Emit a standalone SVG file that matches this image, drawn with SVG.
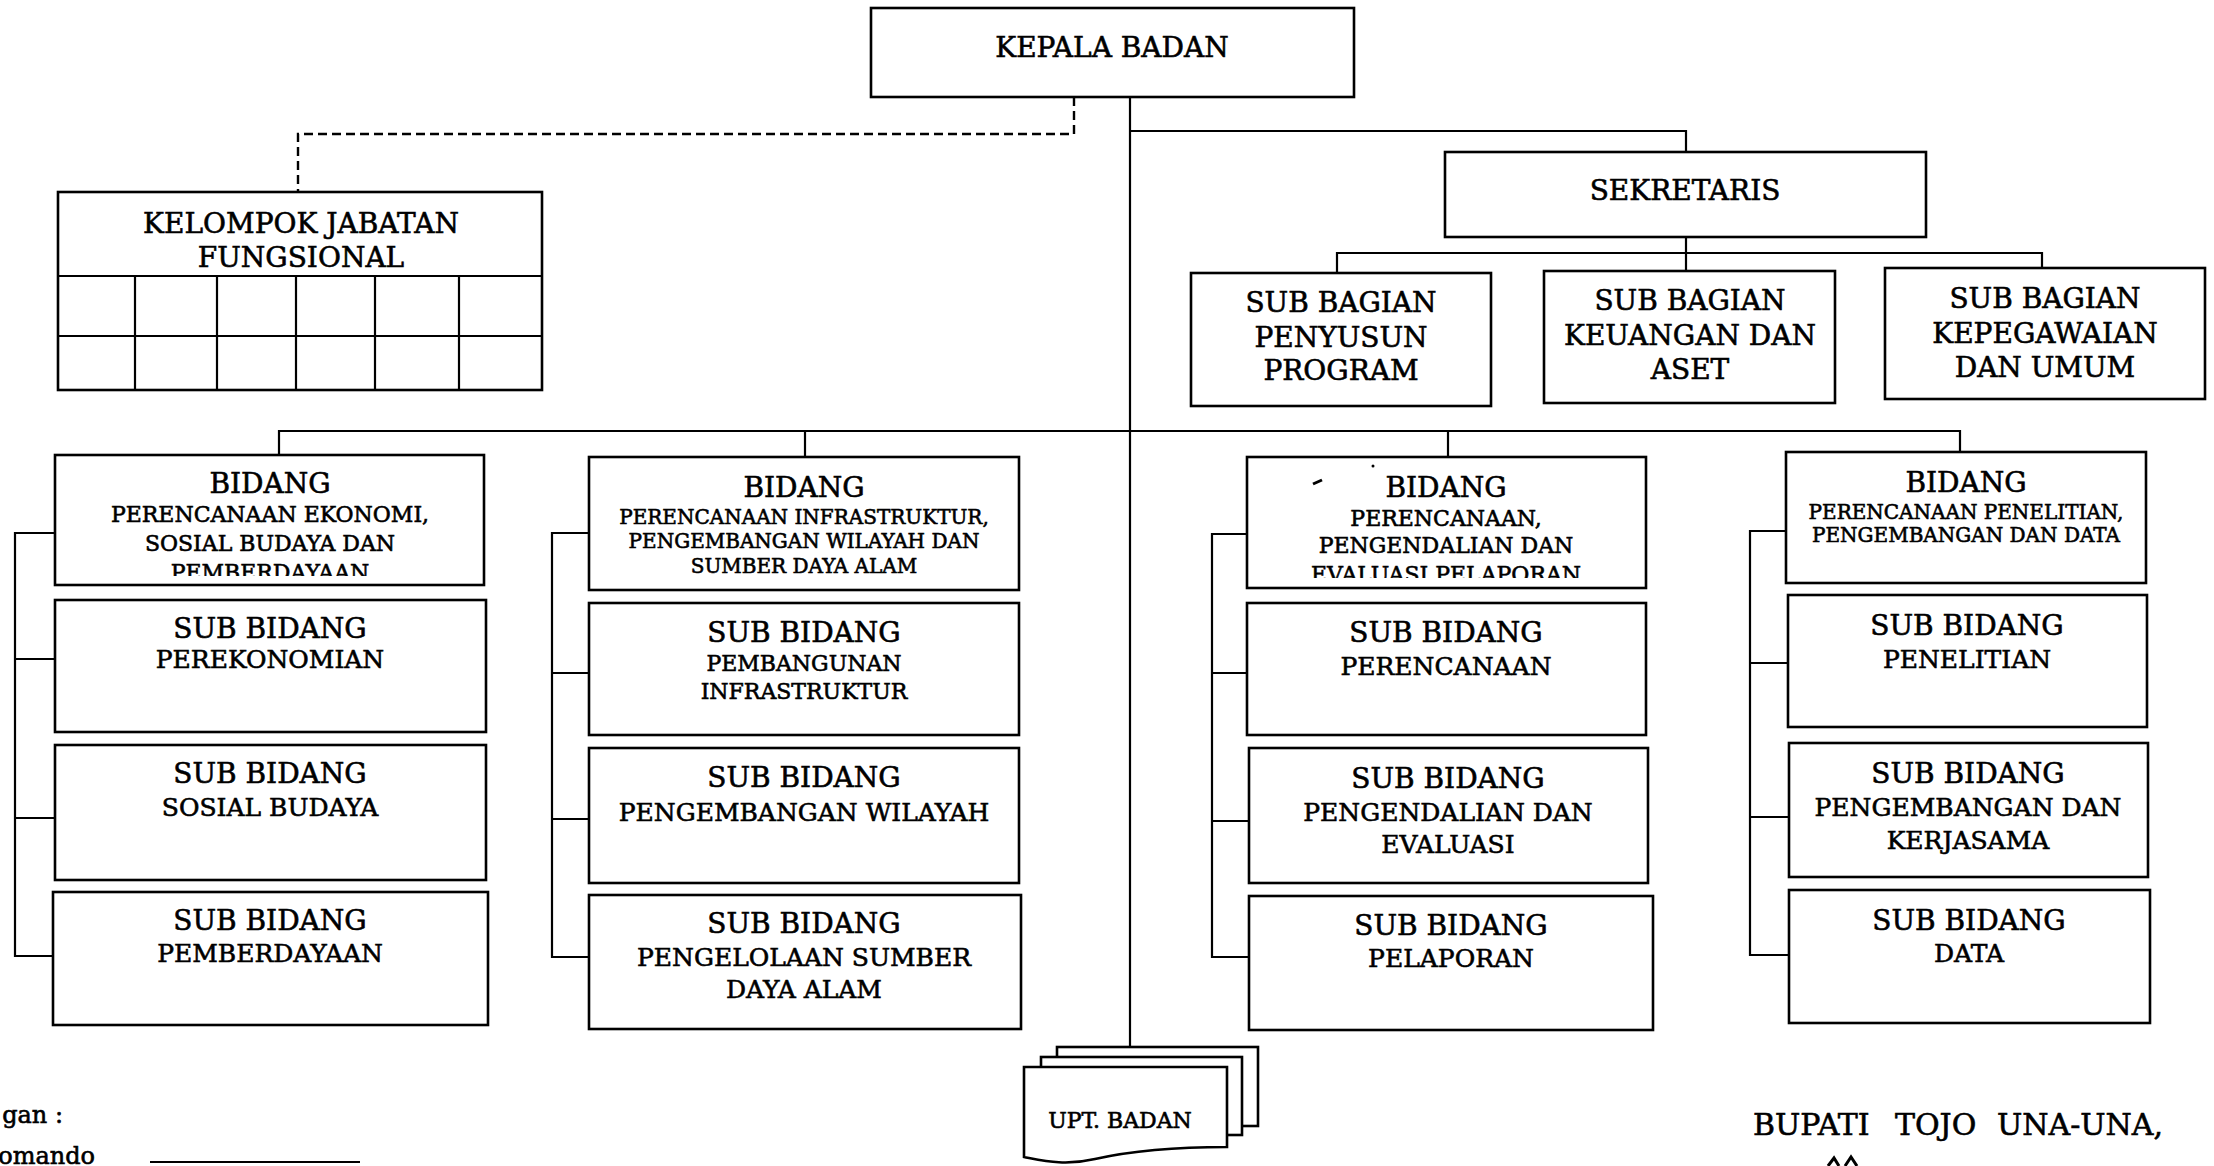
<svg xmlns="http://www.w3.org/2000/svg" width="2214" height="1166" viewBox="0 0 2214 1166">
<style>
.box{fill:#fff;stroke:#000;stroke-width:2.6}
.ln{fill:none;stroke:#000;stroke-width:2.2}
.dash{fill:none;stroke:#000;stroke-width:2.4;stroke-dasharray:9 5}
text{font-family:"DejaVu Serif","Liberation Serif",serif;fill:#000;stroke:#000;stroke-width:0.6;text-anchor:middle}
.t28{font-size:28px}
.t25{font-size:25px}
.t22{font-size:22px}
.t20{font-size:20px}
.lg{font-size:24px;text-anchor:end}
</style>
<defs>
<clipPath id="c1"><rect x="55" y="455" width="429" height="121"/></clipPath>
<clipPath id="c3"><rect x="1247" y="457" width="399" height="121"/></clipPath>
</defs>
<rect width="2214" height="1166" fill="#fff"/>

<g id="connectors">
<path class="ln" d="M1130,97 V1047"/>
<path class="ln" d="M1130,131 H1686 V152"/>
<path class="ln" d="M1686,237 V271"/>
<path class="ln" d="M1337,273 V253 H2042 V268"/>
<path class="ln" d="M279,455 V431 H1960 V452"/>
<path class="ln" d="M805,431 V457"/>
<path class="ln" d="M1448,431 V457"/>
<path class="dash" d="M1074,97 V134 H298 V192"/>
<path class="ln" d="M55,533 H15 V956 H55 M15,659 H55 M15,818 H55"/>
<path class="ln" d="M589,533 H552 V957 H589 M552,673 H589 M552,819 H589"/>
<path class="ln" d="M1247,534 H1212 V957 H1249 M1212,673 H1247 M1212,821 H1249"/>
<path class="ln" d="M1786,531 H1750 V955 H1789 M1750,663 H1788 M1750,817 H1789"/>
</g>

<g id="kepala-badan">
<rect class="box" x="871" y="8" width="483" height="89"/>
<text class="t28" x="1112" y="57">KEPALA BADAN</text>
</g>

<g id="kelompok-jabatan-fungsional">
<rect class="box" x="58" y="192" width="484" height="198"/>
<path class="ln" d="M58,276 H542 M58,336 H542 M135,276 V390 M217,276 V390 M296,276 V390 M375,276 V390 M459,276 V390"/>
<text class="t28" x="301" y="233">KELOMPOK JABATAN</text>
<text class="t28" x="301" y="267">FUNGSIONAL</text>
</g>

<g id="sekretaris">
<rect class="box" x="1445" y="152" width="481" height="85"/>
<text class="t28" x="1685" y="200">SEKRETARIS</text>
</g>

<g id="sub-bagian-penyusun-program">
<rect class="box" x="1191" y="273" width="300" height="133"/>
<text class="t28" x="1341" y="312">SUB BAGIAN</text>
<text class="t28" x="1341" y="347">PENYUSUN</text>
<text class="t28" x="1341" y="380">PROGRAM</text>
</g>

<g id="sub-bagian-keuangan">
<rect class="box" x="1544" y="271" width="291" height="132"/>
<text class="t28" x="1690" y="310">SUB BAGIAN</text>
<text class="t28" x="1690" y="345">KEUANGAN DAN</text>
<text class="t28" x="1690" y="379">ASET</text>
</g>

<g id="sub-bagian-kepegawaian">
<rect class="box" x="1885" y="268" width="320" height="131"/>
<text class="t28" x="2045" y="308">SUB BAGIAN</text>
<text class="t28" x="2045" y="343">KEPEGAWAIAN</text>
<text class="t28" x="2045" y="377">DAN UMUM</text>
</g>

<g id="bidang-ekonomi">
<rect class="box" x="55" y="455" width="429" height="130"/>
<text class="t28" x="270" y="493">BIDANG</text>
<text class="t22" x="270" y="522">PERENCANAAN EKONOMI,</text>
<text class="t22" x="270" y="551">SOSIAL BUDAYA DAN</text>
<text class="t22" x="270" y="580" clip-path="url(#c1)">PEMBERDAYAAN</text>
</g>
<g id="sub-perekonomian">
<rect class="box" x="55" y="600" width="431" height="132"/>
<text class="t28" x="270" y="638">SUB BIDANG</text>
<text class="t25" x="270" y="668">PEREKONOMIAN</text>
</g>
<g id="sub-sosial-budaya">
<rect class="box" x="55" y="745" width="431" height="135"/>
<text class="t28" x="270" y="783">SUB BIDANG</text>
<text class="t25" x="270" y="816">SOSIAL BUDAYA</text>
</g>
<g id="sub-pemberdayaan">
<rect class="box" x="53" y="892" width="435" height="133"/>
<text class="t28" x="270" y="930">SUB BIDANG</text>
<text class="t25" x="270" y="962">PEMBERDAYAAN</text>
</g>

<g id="bidang-infrastruktur">
<rect class="box" x="589" y="457" width="430" height="133"/>
<text class="t28" x="804" y="497">BIDANG</text>
<text class="t20" x="804" y="524">PERENCANAAN INFRASTRUKTUR,</text>
<text class="t20" x="804" y="548">PENGEMBANGAN WILAYAH DAN</text>
<text class="t20" x="804" y="573">SUMBER DAYA ALAM</text>
</g>
<g id="sub-pembangunan-infrastruktur">
<rect class="box" x="589" y="603" width="430" height="132"/>
<text class="t28" x="804" y="642">SUB BIDANG</text>
<text class="t22" x="804" y="671">PEMBANGUNAN</text>
<text class="t22" x="804" y="699">INFRASTRUKTUR</text>
</g>
<g id="sub-pengembangan-wilayah">
<rect class="box" x="589" y="748" width="430" height="135"/>
<text class="t28" x="804" y="787">SUB BIDANG</text>
<text class="t25" x="804" y="821">PENGEMBANGAN WILAYAH</text>
</g>
<g id="sub-pengelolaan-sda">
<rect class="box" x="589" y="895" width="432" height="134"/>
<text class="t28" x="804" y="933">SUB BIDANG</text>
<text class="t25" x="804" y="966">PENGELOLAAN SUMBER</text>
<text class="t25" x="804" y="998">DAYA ALAM</text>
</g>

<g id="bidang-pengendalian">
<rect class="box" x="1247" y="457" width="399" height="131"/>
<path d="M1313,484 L1322,480" stroke="#000" stroke-width="3"/>
<circle cx="1373" cy="466" r="1.5" fill="#000"/>
<text class="t28" x="1446" y="497">BIDANG</text>
<text class="t22" x="1446" y="526">PERENCANAAN,</text>
<text class="t22" x="1446" y="553">PENGENDALIAN DAN</text>
<text class="t22" x="1446" y="582" clip-path="url(#c3)">EVALUASI PELAPORAN</text>
</g>
<g id="sub-perencanaan">
<rect class="box" x="1247" y="603" width="399" height="132"/>
<text class="t28" x="1446" y="642">SUB BIDANG</text>
<text class="t25" x="1446" y="675">PERENCANAAN</text>
</g>
<g id="sub-pengendalian-evaluasi">
<rect class="box" x="1249" y="748" width="399" height="135"/>
<text class="t28" x="1448" y="788">SUB BIDANG</text>
<text class="t25" x="1448" y="821">PENGENDALIAN DAN</text>
<text class="t25" x="1448" y="853">EVALUASI</text>
</g>
<g id="sub-pelaporan">
<rect class="box" x="1249" y="896" width="404" height="134"/>
<text class="t28" x="1451" y="935">SUB BIDANG</text>
<text class="t25" x="1451" y="967">PELAPORAN</text>
</g>

<g id="bidang-penelitian">
<rect class="box" x="1786" y="452" width="360" height="131"/>
<text class="t28" x="1966" y="492">BIDANG</text>
<text class="t20" x="1966" y="519">PERENCANAAN PENELITIAN,</text>
<text class="t20" x="1966" y="542">PENGEMBANGAN DAN DATA</text>
</g>
<g id="sub-penelitian">
<rect class="box" x="1788" y="595" width="359" height="132"/>
<text class="t28" x="1967" y="635">SUB BIDANG</text>
<text class="t25" x="1967" y="668">PENELITIAN</text>
</g>
<g id="sub-pengembangan-kerjasama">
<rect class="box" x="1789" y="743" width="359" height="134"/>
<text class="t28" x="1968" y="783">SUB BIDANG</text>
<text class="t25" x="1968" y="816">PENGEMBANGAN DAN</text>
<text class="t25" x="1968" y="849">KERJASAMA</text>
</g>
<g id="sub-data">
<rect class="box" x="1789" y="890" width="361" height="133"/>
<text class="t28" x="1969" y="930">SUB BIDANG</text>
<text class="t25" x="1969" y="962">DATA</text>
</g>

<g id="upt-badan">
<rect class="box" x="1057" y="1047" width="201" height="79"/>
<rect class="box" x="1041" y="1057" width="201" height="78"/>
<path class="box" d="M1024,1067 H1227 V1147 C1185,1147 1135,1150 1095,1159 C1065,1166 1045,1161 1024,1157 Z"/>
<text class="t22" x="1120" y="1128">UPT. BADAN</text>
</g>

<g id="legend">
<text class="lg" x="63" y="1123">gan :</text>
<text class="lg" x="95" y="1164">omando</text>
<path class="ln" d="M150,1162 H360"/>
</g>

<g id="signature">
<text style="font-size:30px;text-anchor:start" x="1753" y="1135">BUPATI<tspan x="1895">TOJO</tspan><tspan x="1997">UNA-UNA,</tspan></text>
<path d="M1828,1166 L1834,1158 L1839,1166 M1845,1166 L1851,1157 L1857,1166" fill="none" stroke="#000" stroke-width="3"/>
</g>
</svg>
